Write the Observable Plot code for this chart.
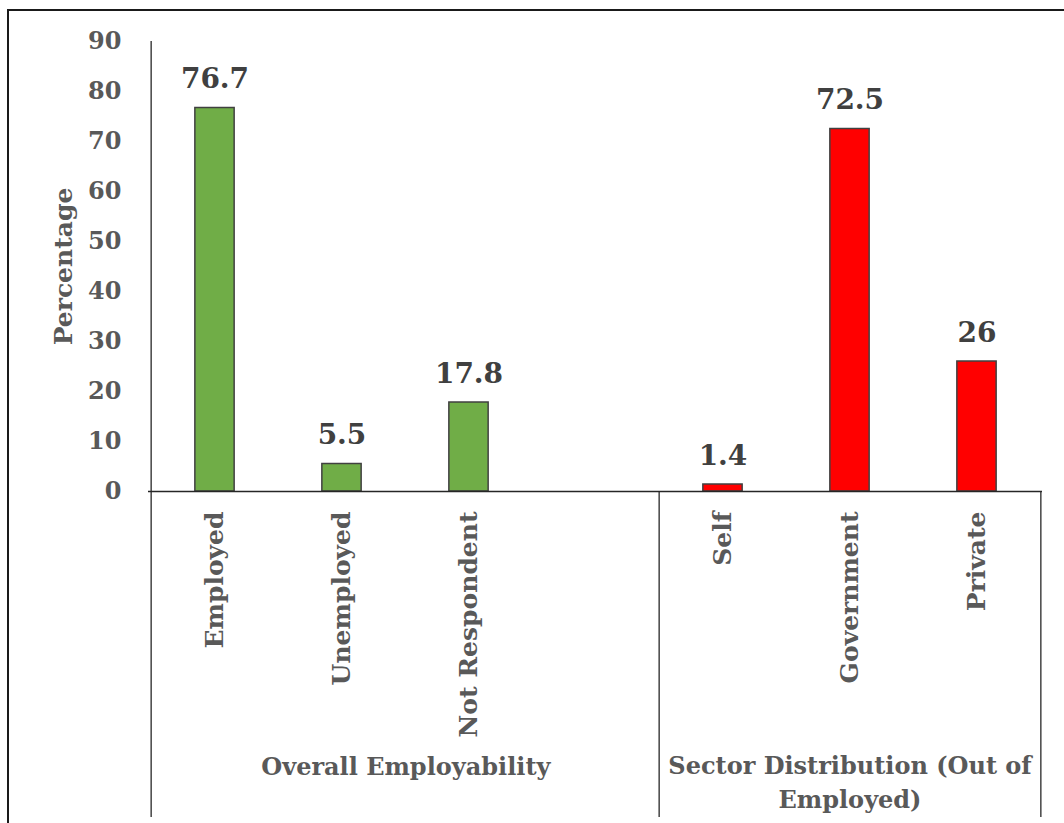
<!DOCTYPE html>
<html>
<head>
<meta charset="utf-8">
<script src="https://cdn.jsdelivr.net/npm/d3@7"></script>
<script src="https://cdn.jsdelivr.net/npm/@observablehq/plot@0.6"></script>
<style>
  html, body { margin: 0; padding: 0; background: #fff; }
  #wrap { position: relative; width: 1064px; height: 823px; overflow: hidden; background: #fff; }
  #frame { position: absolute; left: 7px; top: 9px; width: 1100px; height: 900px;
           border-top: 2px solid #1a1a1a; border-left: 2px solid #1a1a1a; box-sizing: border-box; }
  #chart { position: absolute; left: 0; top: 0; }
  #chart svg { font-family: "DejaVu Serif", serif; }
</style>
</head>
<body>
<div id="wrap"><div id="frame"></div><div id="chart"></div></div>
<script>
// ---- data ----
const categories = ["Employed", "Unemployed", "Not Respondent", "Self", "Government", "Private"];
const values = [76.7, 5.5, 17.8, 1.4, 72.5, 26];
const groupOf = ["Overall Employability", "Overall Employability", "Overall Employability",
                 "Sector Distribution (Out of Employed)", "Sector Distribution (Out of Employed)", "Sector Distribution (Out of Employed)"];
const groupNames = ["Overall Employability", "Sector Distribution (Out of Employed)"];
const groupLabels = ["Overall Employability", "Sector Distribution (Out of\nEmployed)"];
const groupColors = ["#70AD47", "#FF0000"];
const gapSlot = " ";
const xDomain = ["Employed", "Unemployed", "Not Respondent", gapSlot, "Self", "Government", "Private"];
const yTicks = [0, 10, 20, 30, 40, 50, 60, 70, 80, 90];

const data = categories.map((c, i) => ({category: c, value: values[i], group: groupOf[i]}));

// ---- layout ----
const W = 1064, H = 823;
const mL = 148, mR = 22, mT = 41, mB = 332;
const step = (W - mL - mR) / xDomain.length;
const barW = 40;
const below = 326; // how far separators extend below the baseline
const textGray = "#595959";
const lineCol = "#262626";

const chart = Plot.plot({
  width: W, height: H,
  marginLeft: mL, marginRight: mR, marginTop: mT, marginBottom: mB,
  x: {domain: xDomain, padding: 0, axis: null},
  y: {domain: [0, 90], axis: null},
  color: {domain: groupNames, range: groupColors},
  marks: [
    Plot.barY(data, {
      x: "category", y: "value", fill: "group",
      stroke: "#404040", strokeWidth: 1.5,
      insetLeft: (step - barW) / 2, insetRight: (step - barW) / 2
    }),
    Plot.ruleY([0], {stroke: lineCol, strokeWidth: 1.5}),
    // y axis line extending to the bottom
    Plot.ruleX([xDomain[0]], {dx: -step / 2, insetBottom: -below, stroke: lineCol, strokeWidth: 1.3}),
    // group separators below the baseline
    Plot.ruleX(["Self"], {dx: -step / 2, insetTop: H - mT - mB, insetBottom: -below, stroke: lineCol, strokeWidth: 1.3}),
    Plot.ruleX(["Private"], {dx: step / 2, insetTop: H - mT - mB, insetBottom: -below, stroke: lineCol, strokeWidth: 1.3}),
    Plot.axisY({
      ticks: yTicks, tickSize: 0, tickPadding: 27, label: null,
      fontSize: 24, fontWeight: "bold", fill: textGray
    }),
    Plot.text(["Percentage"], {
      frameAnchor: "left", dx: -85, rotate: -90, textAnchor: "middle",
      fontSize: 25, fontWeight: "bold", fill: textGray
    }),
    Plot.axisX({
      domain: categories,
      tickSize: 0, tickRotate: -90, tickPadding: 20, label: null,
      fontSize: 25, fontWeight: "bold", fill: textGray
    }),
    Plot.text(data, {
      x: "category", y: "value", text: d => String(d.value),
      dy: -20, lineAnchor: "bottom",
      fontSize: 28, fontWeight: "bold", fill: "#404040"
    }),
    Plot.text([groupLabels[0]], {
      x: () => "Unemployed", dx: step / 2, frameAnchor: "bottom", dy: 283,
      text: d => d, fontSize: 24, fontWeight: "bold", fill: textGray
    }),
    Plot.text([groupLabels[1]], {
      x: () => "Government", frameAnchor: "bottom", dy: 316, lineHeight: 1.4,
      text: d => d, fontSize: 24, fontWeight: "bold", fill: textGray
    })
  ]
});
document.getElementById("chart").appendChild(chart);
</script>
</body>
</html>
